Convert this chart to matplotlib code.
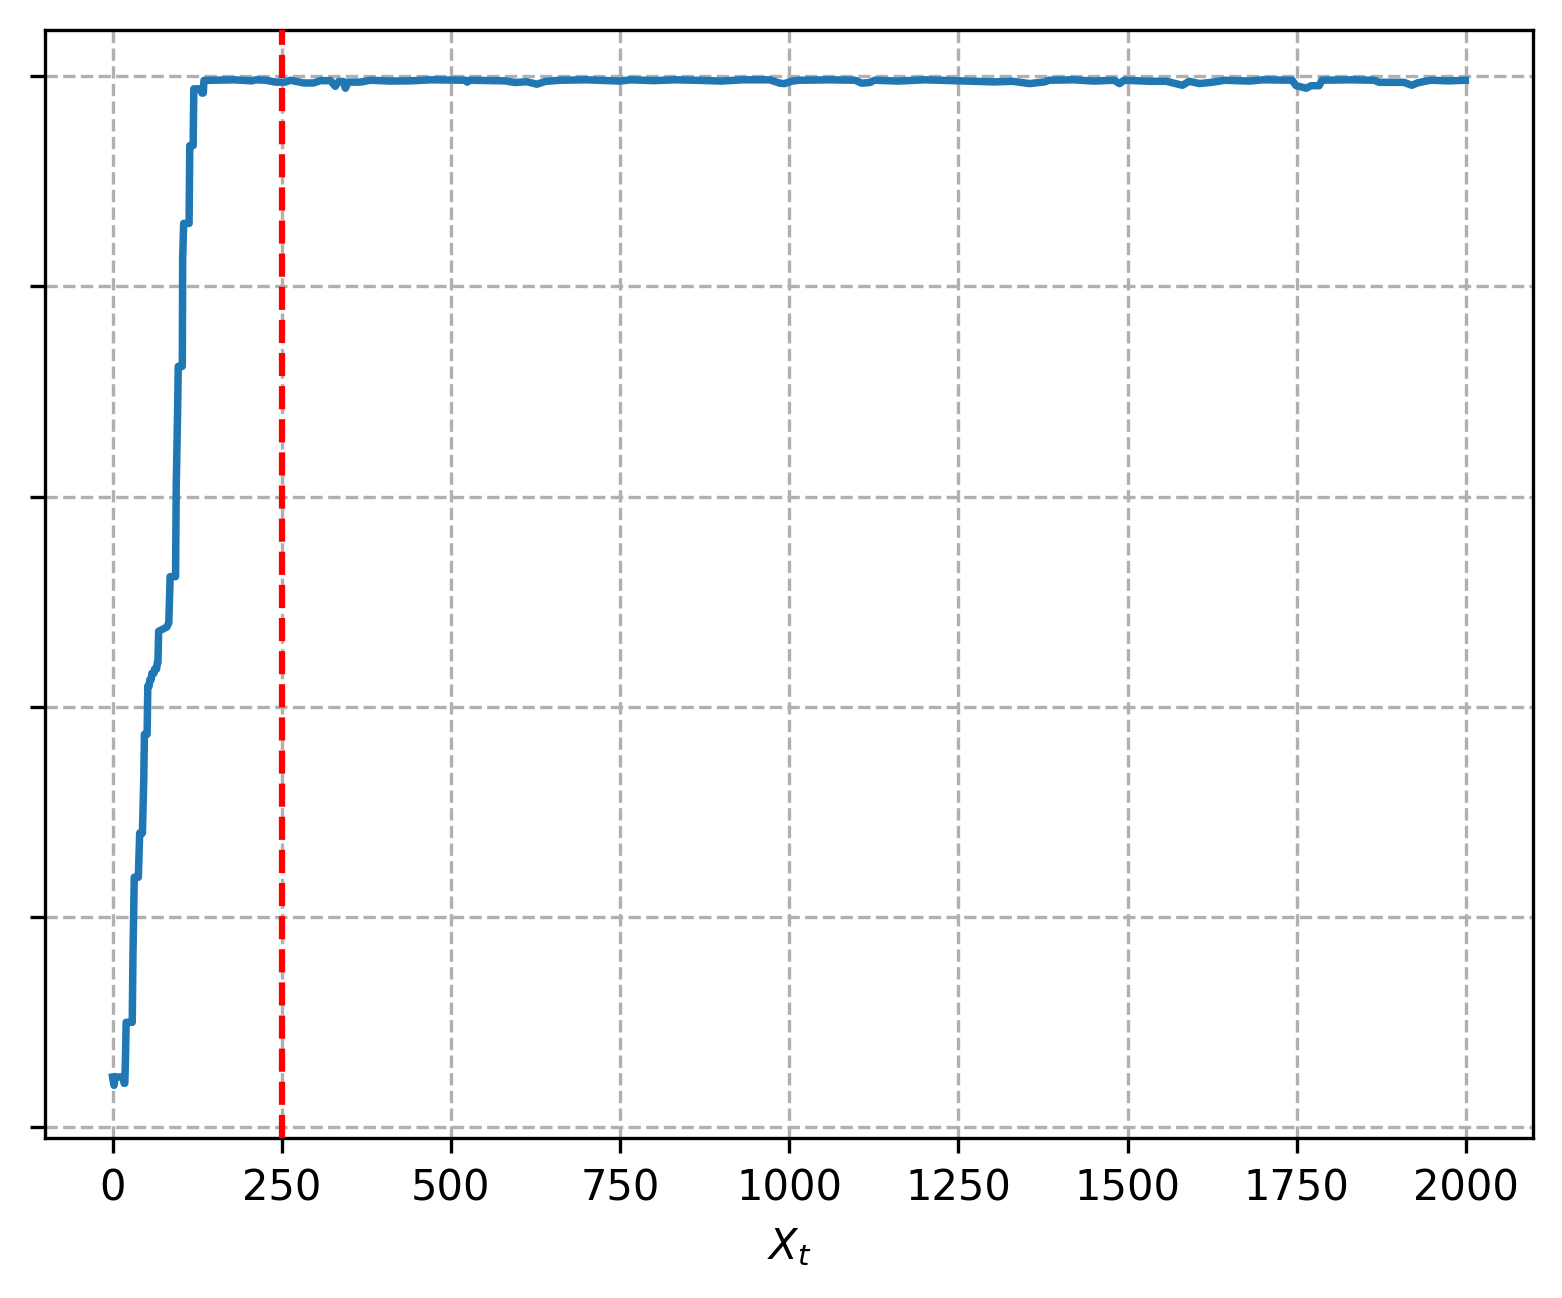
import matplotlib
matplotlib.use('Agg')
import matplotlib.pyplot as plt

# trace values (iteration, value)
iters = [0, 2, 4, 15, 17, 18, 19, 20, 29, 30, 32, 38, 40, 44, 46, 47, 51, 52,
         54, 55, 57, 58, 61, 62, 65, 66, 67, 68, 80, 83, 85, 93, 94, 96, 97,
         103, 103.5, 105, 113, 114, 119, 120, 130, 132, 134, 135,
         180, 205, 212, 226, 241, 255, 263, 282, 297, 307, 322, 329, 334,
         341, 344, 348, 366, 381, 410, 440, 470, 521, 524, 528, 580, 595,
         612, 627, 639, 661, 700, 750, 765, 800, 830, 860, 900, 930, 971,
         986, 993, 1004, 1015, 1060, 1097, 1107, 1119, 1126, 1160, 1200,
         1250, 1303, 1330, 1355, 1377, 1384, 1420, 1450, 1480, 1488, 1495,
         1532, 1557, 1581, 1591, 1606, 1621, 1631, 1643, 1680, 1700, 1743,
         1749, 1764, 1771, 1783, 1787, 1830, 1864, 1872, 1908, 1920, 1928,
         1938, 1948, 1975, 1999]
values = [0.24, 0.20, 0.24, 0.24, 0.21, 0.21, 0.33, 0.50, 0.50, 0.81, 1.19,
          1.19, 1.40, 1.40, 1.65, 1.87, 1.87, 2.10, 2.10, 2.13, 2.13, 2.16,
          2.16, 2.18, 2.18, 2.21, 2.21, 2.36, 2.38, 2.40, 2.62, 2.62, 3.05,
          3.40, 3.62, 3.62, 4.13, 4.30, 4.30, 4.67, 4.67, 4.94, 4.94, 4.92,
          4.92, 4.98,
          4.983, 4.978, 4.983, 4.981, 4.972, 4.972, 4.981, 4.968, 4.968,
          4.979, 4.979, 4.952, 4.975, 4.975, 4.943, 4.972, 4.972, 4.981,
          4.977, 4.978, 4.983, 4.981, 4.972, 4.981, 4.978, 4.970, 4.974,
          4.962, 4.975, 4.981, 4.983, 4.977, 4.983, 4.979, 4.983, 4.981,
          4.977, 4.983, 4.983, 4.967, 4.965, 4.977, 4.981, 4.983, 4.981,
          4.967, 4.970, 4.981, 4.977, 4.983, 4.978, 4.973, 4.976, 4.965,
          4.973, 4.981, 4.983, 4.977, 4.981, 4.965, 4.981, 4.976, 4.976,
          4.957, 4.976, 4.965, 4.970, 4.974, 4.981, 4.977, 4.983, 4.981,
          4.955, 4.943, 4.955, 4.955, 4.981, 4.983, 4.981, 4.971, 4.971,
          4.957, 4.968, 4.975, 4.981, 4.978, 4.981]

burn_in = 250
yticks = [0, 1, 2, 3, 4, 5]

fig, ax = plt.subplots(figsize=(1562 / 300, 1298 / 300), dpi=300)
fig.subplots_adjust(left=0.0288, right=0.9814, top=0.9769, bottom=0.1233)

ax.plot(iters, values, color='#1f77b4', linewidth=1.8, zorder=3)
ax.axvline(burn_in, color='red', linestyle='--', linewidth=1.5, zorder=4)

ax.set_ylim(-0.05, 5.22)
ax.set_yticks(yticks)
ax.set_yticklabels([])
ax.set_xlabel('$X_t$')
ax.grid(True, linestyle='--')

fig.savefig('out.png', dpi=300)
